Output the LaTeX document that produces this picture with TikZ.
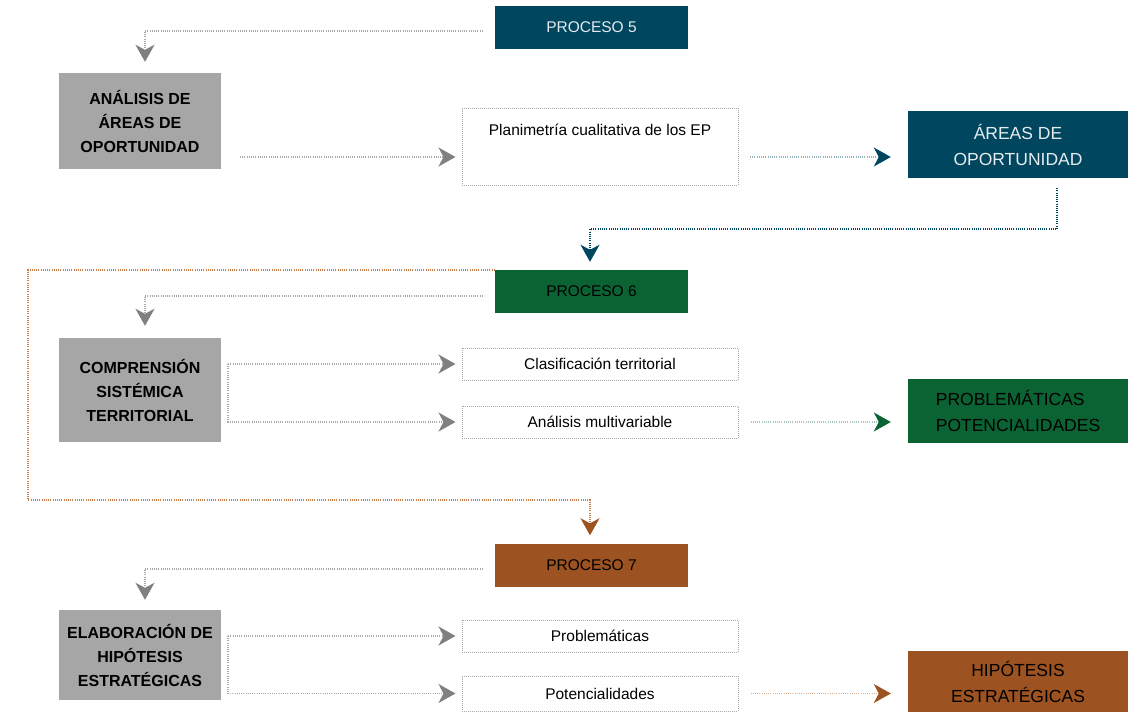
\documentclass[tikz,border=0pt]{standalone}
\usepackage{fontspec}
\setmainfont{Liberation Sans}
\usetikzlibrary{positioning,calc,arrows.meta}
\definecolor{tealP}{RGB}{0,70,95}
\definecolor{greenP}{RGB}{11,99,51}
\definecolor{brownP}{RGB}{156,82,33}
\definecolor{greyBox}{RGB}{166,166,166}
\definecolor{greyTip}{RGB}{128,128,128}
\definecolor{greyDots}{RGB}{170,170,170}
\definecolor{orangeDots}{RGB}{200,125,75}
\tikzset{
proc/.style={minimum width=193pt, minimum height=43pt, inner sep=0pt, font=\fontsize{15.5}{18}\selectfont}, % header of each process
task/.style={fill=greyBox, minimum width=162pt, inner sep=0pt, align=center, font=\bfseries\fontsize{16}{24}\selectfont}, % grey boxes on the left
sub/.style={draw=greyDots, line width=1pt, dash pattern=on 1pt off 1pt, minimum width=276pt, minimum height=32pt, inner sep=0pt, font=\fontsize{15.5}{18}\selectfont}, % dotted boxes
result/.style={minimum width=220pt, inner sep=0pt, align=center, font=\fontsize{17.5}{26}\selectfont}, % boxes on the right
dots/.style={line width=1.5pt, dash pattern=on 1pt off 1.2pt},
tip/.style={-{Stealth[length=17pt,width=19pt,inset=5pt,color=#1]}}, % big arrow heads
flow/.style={dots, draw=greyDots, tip=greyTip}, % grey arrows
}
\begin{document}
\begin{tikzpicture}[x=1pt,y=-1pt]
\useasboundingbox (0,0) rectangle (1141,712);

% process 5
\node[proc, fill=tealP, text=white!90!tealP] (p5) at (591.5,27.5) {PROCESO 5};
\node[task, minimum height=96pt] (ana) at (140,121) {ANÁLISIS DE\\ÁREAS DE\\OPORTUNIDAD};
\node[sub, minimum height=77pt] (plan) at (600,146.5) {};
\node[font=\fontsize{15.5}{18}\selectfont] (plantext) at ([yshift=-22pt]plan.north) {Planimetría cualitativa de los EP};
\node[result, fill=tealP, text=white!90!tealP, minimum height=67pt] (areas) at (1018,144.5) {ÁREAS DE\\OPORTUNIDAD};

% process 6
\node[proc, fill=greenP] (p6) at (591.5,291.5) {PROCESO 6};
\node[task, minimum height=104pt] (comp) at (140,390) {COMPRENSIÓN\\SISTÉMICA\\TERRITORIAL};
\node[sub] (clas) at (600,364) {Clasificación territorial};
\node[sub, below=25pt of clas] (mult) {Análisis multivariable};
\node[result, fill=greenP, minimum height=64pt, align=left] (prob) at (1018,411) {PROBLEMÁTICAS\\POTENCIALIDADES};

% process 7
\node[proc, fill=brownP] (p7) at (591.5,565) {PROCESO 7};
\node[task, minimum height=90pt] (elab) at (140,655) {ELABORACIÓN DE\\HIPÓTESIS\\ESTRATÉGICAS};
\node[sub] (probs) at (600,636) {Problemáticas};
\node[sub, minimum height=35pt] (pot) at (600,693.5) {Potencialidades};
\node[result, fill=brownP, minimum height=61pt] (hip) at (1018,681.5) {HIPÓTESIS\\ESTRATÉGICAS};

\coordinate (a1) at (240,157);
\coordinate (a2) at (750,157);
\coordinate (b6) at ([xshift=7pt]comp.east |- clas);
\coordinate (b7) at ([xshift=7pt]elab.east |- probs);

\draw[flow, shorten >=11pt] ([xshift=-12pt,yshift=-3.5pt]p5.west) -| ([xshift=5pt]ana.north);
\draw[flow, shorten >=6pt] (a1) -- (a1 -| plan.west);
\draw[dots, draw=tealP!40, tip=tealP, shorten >=17pt] (a2) -- (a2 -| areas.west);
\draw[dots, draw=tealP, tip=tealP, shorten >=8pt] ([xshift=39pt,yshift=-10pt]areas.south) -- ++(0,41) -| ([xshift=-1.5pt]p6.north);

\draw[dots, draw=orangeDots, tip=brownP, shorten >=8pt] (p6.north west) -| (28,500) -| ([xshift=-1.5pt]p7.north);
\draw[flow, shorten >=12pt] ([xshift=-12pt,yshift=-4.5pt]p6.west) -| ([xshift=5pt]comp.north);
\draw[flow, shorten >=6pt] (b6) -- (clas.west);
\draw[flow, shorten >=6pt] (b6) |- (mult.west);
\draw[dots, draw=greenP!35, tip=greenP, shorten >=17pt] ([xshift=12pt]mult.east) -- (mult -| prob.west);

\draw[flow, shorten >=10pt] ([xshift=-12pt,yshift=-4pt]p7.west) -| ([xshift=5pt]elab.north);
\draw[flow, shorten >=6pt] (b7) -- (probs.west);
\draw[flow, shorten >=6pt] (b7) |- (pot.west);
\draw[dots, draw=orangeDots!60, tip=brownP, shorten >=17pt] ([xshift=12pt]pot.east) -- (pot -| hip.west);

\end{tikzpicture}
\end{document}
